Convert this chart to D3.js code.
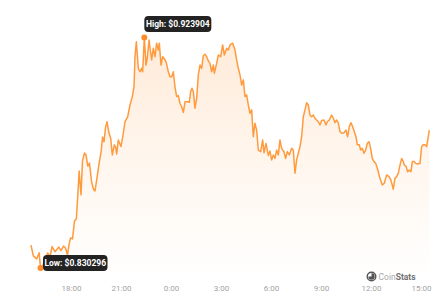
<!DOCTYPE html>
<html lang="en">
	<head>
		<meta charset="utf-8">
		<title>D3: price chart</title>
		<script src="https://d3js.org/d3.v7.min.js"></script>
		<style type="text/css">
			body { margin: 0; background: #fff; }
		</style>
	</head>
	<body>
		<script type="text/javascript">

			// hours since midnight of day one (24+ = next day)
			var hours = [15.60,15.74,15.94,16.09,16.17,16.28,16.44,16.60,16.74,16.86,17.04,17.27,17.40,17.55,17.67,17.79,17.88,17.97,18.09,18.21,
				18.32,18.42,18.49,18.60,18.69,18.81,18.90,19.01,19.11,19.23,19.34,19.44,19.54,19.68,19.82,19.89,19.98,20.08,20.16,20.28,
				20.38,20.48,20.60,20.68,20.74,20.84,21.00,21.14,21.24,21.40,21.54,21.68,21.78,21.84,21.92,22.04,22.14,22.24,22.30,22.40,
				22.50,22.58,22.68,22.84,22.94,23.04,23.14,23.24,23.30,23.40,23.50,23.58,23.70,23.84,23.94,24.04,24.14,24.24,24.34,24.44,
				24.54,24.64,24.74,24.84,24.98,25.10,25.18,25.26,25.34,25.44,25.54,25.64,25.74,25.84,25.94,26.04,26.14,26.24,26.34,26.44,
				26.54,26.60,26.74,26.84,26.98,27.10,27.20,27.34,27.44,27.54,27.70,27.84,27.94,28.04,28.14,28.24,28.34,28.44,28.54,28.64,
				28.74,28.84,28.94,29.04,29.14,29.24,29.38,29.50,29.58,29.70,29.84,29.94,30.04,30.14,30.24,30.34,30.44,30.54,30.64,30.78,
				30.88,30.98,31.10,31.24,31.34,31.44,31.54,31.64,31.74,31.84,31.94,32.04,32.14,32.24,32.34,32.44,32.54,32.64,32.74,32.84,
				32.94,33.04,33.18,33.30,33.38,33.50,33.64,33.74,33.84,33.94,34.04,34.14,34.24,34.38,34.50,34.60,34.70,34.80,34.90,35.00,
				35.10,35.18,35.30,35.38,35.48,35.58,35.68,35.78,35.88,35.98,36.08,36.18,36.28,36.36,36.44,36.54,36.68,36.80,36.94,37.08,
				37.20,37.34,37.44,37.54,37.64,37.74,37.84,37.94,38.00,38.10,38.20,38.30,38.40,38.48,38.60,38.68,38.80,38.94,39.04,39.14,
				39.24,39.34,39.50];

			var prices = [0.8396,0.8352,0.8340,0.8365,0.830296,0.8308,0.8336,0.8364,0.8348,0.8390,0.8369,0.8388,0.8374,0.8392,0.8384,0.8356,0.8396,0.8425,0.8421,0.8494,
				0.8502,0.8612,0.8697,0.8600,0.8738,0.8770,0.8762,0.8717,0.8729,0.8656,0.8624,0.8616,0.8660,0.8725,0.8782,0.8835,0.8816,0.8877,0.8897,0.8851,
				0.8831,0.8762,0.8803,0.8794,0.8766,0.8823,0.8796,0.8851,0.8897,0.8917,0.8965,0.8999,0.9039,0.9161,0.9222,0.9114,0.9100,0.9114,0.9100,0.923904,
				0.9127,0.9156,0.9229,0.9148,0.9195,0.9161,0.9216,0.9188,0.9216,0.9127,0.9161,0.9155,0.9141,0.9100,0.9080,0.9080,0.9100,0.9039,0.8999,0.9003,
				0.8972,0.8958,0.8935,0.8978,0.8978,0.8976,0.9019,0.9033,0.9019,0.8952,0.8992,0.9087,0.9127,0.9114,0.9166,0.9171,0.9161,0.9144,0.9134,0.9100,
				0.9127,0.9094,0.9134,0.9168,0.9161,0.9209,0.9168,0.9195,0.9188,0.9209,0.9216,0.9188,0.9148,0.9114,0.9087,0.9046,0.9067,0.8999,0.9006,0.8965,
				0.8931,0.8945,0.8836,0.8891,0.8863,0.8782,0.8775,0.8823,0.8771,0.8809,0.8760,0.8778,0.8742,0.8762,0.8748,0.8782,0.8762,0.8823,0.8789,0.8775,
				0.8748,0.8775,0.8762,0.8789,0.8782,0.8688,0.8742,0.8769,0.8796,0.8836,0.8917,0.8945,0.8974,0.8965,0.8924,0.8917,0.8924,0.8911,0.8904,0.8897,
				0.8884,0.8902,0.8904,0.8884,0.8897,0.8904,0.8924,0.8911,0.8893,0.8904,0.8891,0.8857,0.8850,0.8852,0.8863,0.8836,0.8877,0.8893,0.8877,0.8857,
				0.8836,0.8803,0.8803,0.8782,0.8789,0.8769,0.8782,0.8809,0.8816,0.8789,0.8748,0.8735,0.8728,0.8713,0.8694,0.8667,0.8640,0.8647,0.8681,0.8674,
				0.8660,0.8623,0.8667,0.8674,0.8688,0.8721,0.8748,0.8735,0.8721,0.8717,0.8694,0.8701,0.8694,0.8735,0.8735,0.8728,0.8725,0.8728,0.8796,0.8803,
				0.8803,0.8796,0.8863];

			var tickHours = [18, 21, 24, 27, 30, 33, 36, 39];

			var width = 440, height = 300;
			var day0 = new Date(2024, 0, 1);
			function toDate(h){ return new Date(day0.getTime() + h * 3600e3); }

			var data = hours.map(function(h, i){ return {t: toDate(h), p: prices[i]}; });

			var svg = d3.select("body")
				.append("svg")
				.attr("width", width)
				.attr("height", height);

			var xscale = d3.scaleTime()
				.domain(d3.extent(data, function(d){ return d.t; }))
				.range([31, 429.3]);

			var yscale = d3.scaleLinear()
				.domain(d3.extent(prices))
				.range([268, 37.5]);

			var baseY = 280;

			var grad = svg.append("defs").append("linearGradient")
				.attr("id", "fillgrad")
				.attr("x1", 0).attr("y1", 0).attr("x2", 0).attr("y2", 1);
			grad.append("stop").attr("offset", "0%").attr("stop-color", "#ff8a1f").attr("stop-opacity", 0.17);
			grad.append("stop").attr("offset", "55%").attr("stop-color", "#ff8a1f").attr("stop-opacity", 0.07);
			grad.append("stop").attr("offset", "100%").attr("stop-color", "#ff8a1f").attr("stop-opacity", 0);

			var area = d3.area()
				.x(function(d){ return xscale(d.t); })
				.y0(baseY)
				.y1(function(d){ return yscale(d.p); });

			var line = d3.line()
				.x(function(d){ return xscale(d.t); })
				.y(function(d){ return yscale(d.p); });

			svg.append("path")
				.datum(data)
				.attr("d", area)
				.attr("fill", "url(#fillgrad)");

			svg.append("path")
				.datum(data)
				.attr("d", line)
				.attr("fill", "none")
				.attr("stroke", "#ff9a3d")
				.attr("stroke-width", 1.5)
				.attr("stroke-linejoin", "round");

			// x axis labels
			var xAxis = d3.axisBottom(xscale)
				.tickValues(tickHours.map(toDate))
				.tickFormat(d3.timeFormat("%-H:%M"))
				.tickSize(0)
				.tickPadding(0);

			var gx = svg.append("g")
				.attr("transform", "translate(0,285)")
				.call(xAxis);
			gx.select(".domain").remove();
			gx.selectAll("text")
				.attr("fill", "#a3a3a3")
				.attr("font-family", "Roboto, sans-serif")
				.attr("font-size", "8px");

			// high / low markers
			var hiIdx = d3.maxIndex(prices), loIdx = d3.minIndex(prices);
			var hi = data[hiIdx], lo = data[loIdx];

			svg.append("circle")
				.attr("cx", xscale(hi.t)).attr("cy", yscale(hi.p))
				.attr("r", 3).attr("fill", "#ff8c2a");
			svg.append("circle")
				.attr("cx", xscale(lo.t)).attr("cy", yscale(lo.p))
				.attr("r", 3).attr("fill", "#ff8c2a");

			function bubble(x, y, w, txt){
				var g = svg.append("g");
				g.append("rect")
					.attr("x", x).attr("y", y)
					.attr("width", w).attr("height", 16)
					.attr("rx", 4)
					.attr("fill", "#232323");
				g.append("text")
					.attr("x", x + w / 2).attr("y", y + 11.2)
					.attr("text-anchor", "middle")
					.attr("fill", "#fff")
					.attr("font-family", "Roboto, sans-serif")
					.attr("font-weight", "bold")
					.attr("font-size", "8.5px")
					.text(txt);
			}
			bubble(xscale(hi.t), yscale(hi.p) - 21.5, 67, "High: $" + hi.p.toFixed(6));
			bubble(xscale(lo.t) + 2.5, yscale(lo.p) - 13, 64.5, "Low: $" + lo.p.toFixed(6));

			// watermark
			var wm = svg.append("g").attr("transform", "translate(371.5,276.5)");
			wm.append("circle").attr("r", 4.3).attr("fill", "none").attr("stroke", "#555").attr("stroke-width", 1.4);
			wm.append("path")
				.attr("d", d3.arc().innerRadius(0).outerRadius(3.2).startAngle(0).endAngle(Math.PI * 1.5)())
				.attr("fill", "#555");
			var wt = wm.append("text")
				.attr("x", 7).attr("y", 3)
				.attr("font-family", "Roboto, sans-serif")
				.attr("font-size", "8.5px");
			wt.append("tspan").attr("fill", "#a8a8a8").text("Coin");
			wt.append("tspan").attr("fill", "#707070").attr("font-weight", "bold").text("Stats");

		</script>
	</body>
</html>
